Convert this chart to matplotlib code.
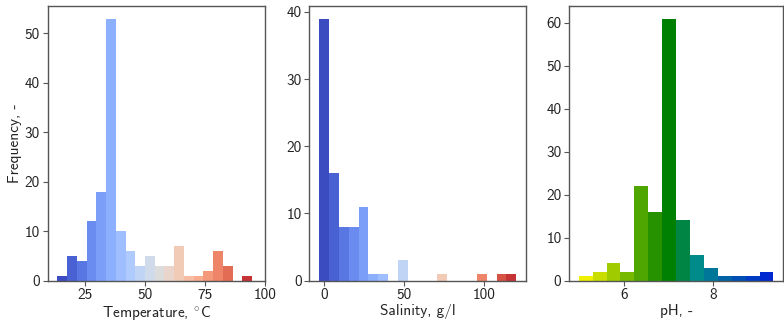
import numpy as np
import matplotlib
matplotlib.use("Agg")
import matplotlib.pyplot as plt
from matplotlib.colors import LinearSegmentedColormap

# ---- data ----
temp_start = 13.4
temp_width = 4.06
temp_counts = [1, 5, 4, 12, 18, 53, 10, 6, 3, 5, 3, 3, 7, 1, 1, 2, 6, 3, 0, 1]

sal_start = -3.1
sal_width = 6.15
sal_counts = [39, 16, 8, 8, 11, 1, 1, 0, 3, 0, 0, 0, 1, 0, 0, 0, 1, 0, 1, 1]

ph_start = 4.98
ph_width = 0.312
ph_counts = [1, 2, 4, 2, 22, 16, 61, 14, 6, 3, 1, 1, 1, 2]

temp_xticks = [25, 50, 75, 100]
sal_xticks = [0, 50, 100]
ph_xticks = [6, 8]

labels_x = ["Temperature, $^{\\circ}$C", "Salinity, g/l", "pH, -"]
label_y = "Frequency, -"

# ---- style ----
plt.rcParams["font.family"] = ["cmss10", "DejaVu Sans"]
plt.rcParams["mathtext.fontset"] = "cm"
plt.rcParams["axes.unicode_minus"] = False
plt.rcParams["font.size"] = 11

spine_col = "#555555"
text_col = "#222222"

ph_cmap = LinearSegmentedColormap.from_list(
    "ph", [(0.0, "#f0f000"), (0.46, "#008000"), (0.615, "#008b8b"), (1.0, "#0028d0")])
cw = plt.get_cmap("coolwarm")

fig = plt.figure(figsize=(7.84, 3.24), dpi=100)
bottom, top = 0.134, 0.983
lefts = [0.0608, 0.3945, 0.7258]
rights = [0.338, 0.671, 0.999]
axes = [fig.add_axes([l, bottom, r - l, top - bottom]) for l, r in zip(lefts, rights)]

panels = [
    (temp_start, temp_width, temp_counts, lambda i, n: cw(i / n), temp_xticks),
    (sal_start, sal_width, sal_counts, lambda i, n: cw(i / n), sal_xticks),
    (ph_start, ph_width, ph_counts, lambda i, n: ph_cmap(i / (n - 1)), ph_xticks),
]

for ax, (start, width, counts, colfn, xt), xl in zip(axes, panels, labels_x):
    n = len(counts)
    edges = start + width * np.arange(n)
    colors = [colfn(i, n) for i in range(n)]
    ax.bar(edges, counts, width=width, align="edge", color=colors, linewidth=0)
    ax.set_xticks(xt)
    ax.set_xlabel(xl, color=text_col, labelpad=1)
    for s in ax.spines.values():
        s.set_color(spine_col)
        s.set_linewidth(1.0)
    ax.tick_params(direction="out", length=3.5, width=0.8, color=spine_col,
                   labelcolor=text_col, labelsize=11, pad=2,
                   top=False, right=False)

axes[0].set_yticks([0, 10, 20, 30, 40, 50])
axes[1].set_yticks([0, 10, 20, 30, 40])
axes[2].set_yticks([0, 10, 20, 30, 40, 50, 60])
axes[0].set_ylabel(label_y, color=text_col, labelpad=2)

fig.savefig("out.png", dpi=100)
